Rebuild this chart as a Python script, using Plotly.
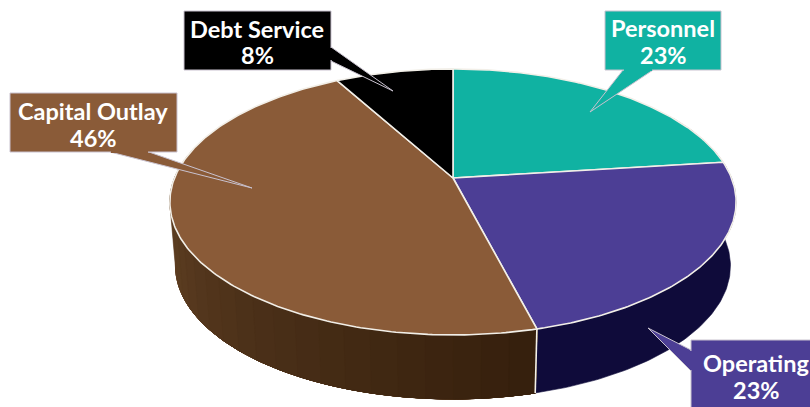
import numpy as np
import plotly.graph_objects as go

# Budget shares, drawn clockwise from twelve o'clock
categories = ["Personnel", "Operating", "Capital Outlay", "Debt Service"]
shares = [23, 23, 46, 8]
top_colors = ["#10b2a2", "#4c3e95", "#8a5b38", "#000000"]

# Tilted-disc projection: apex of the slices, radii and foreshortening
APEX_X, APEX_Y = 453.0, 178.0
RX, RY, PERSPECTIVE = 278.5, 128.7, 0.18
DEPTH, BOTTOM_SCALE = 64.0, 0.98


def project(theta, lower=False):
    """Map clock angles (radians) on the disc rim to screen coordinates."""
    denom = 1 + PERSPECTIVE * np.cos(theta)
    x = RX * np.sin(theta) / denom
    y = -RY * np.cos(theta) / denom
    if lower:
        return APEX_X + x * BOTTOM_SCALE, APEX_Y + y + DEPTH
    return APEX_X + x, APEX_Y + y


def arc(a, b, n=90):
    return np.linspace(a, b, max(2, int(n)))


def wall_trace(a, b, color):
    t = arc(a, b, 120)
    ux, uy = project(t)
    lx, ly = project(t[::-1], lower=True)
    return go.Scatter(
        x=np.r_[ux, lx, ux[0]], y=np.r_[uy, ly, uy[0]], mode="lines", fill="toself",
        fillcolor=color, line=dict(color=color, width=0.6), hoverinfo="skip", showlegend=False,
    )


def mix(c0, c1, f):
    return "rgb(%d,%d,%d)" % tuple(round(p + (q - p) * f) for p, q in zip(c0, c1))


edges = np.r_[0, np.cumsum(shares)] / sum(shares) * 2 * np.pi
fig = go.Figure()

# Side wall: navy under Operating, shaded brown under Capital Outlay.
# Painted lightest first, each darker band overlapping toward the seam.
fig.add_trace(wall_trace(np.radians(60), edges[2], "#0f0b3a"))
wall_dark, wall_light = (54, 32, 13), (112, 76, 44)
steps = np.linspace(np.radians(285), edges[2], 26)
for i in range(len(steps) - 1):
    fig.add_trace(wall_trace(edges[2], steps[i], mix(wall_light, wall_dark, (i / (len(steps) - 2)) ** 0.8)))

# White seam running down the wall between the two visible slices
sx0, sy0 = project(edges[2])
sx1, sy1 = project(edges[2], lower=True)
fig.add_trace(go.Scatter(x=[sx0, sx1], y=[sy0, sy1], mode="lines",
                         line=dict(color="#f4f1ea", width=1.6), hoverinfo="skip", showlegend=False))

# Top faces of the slices
for i, name in enumerate(categories):
    t = arc(edges[i], edges[i + 1], 30 + shares[i] * 4)
    x, y = project(t)
    fig.add_trace(go.Scatter(
        x=np.r_[APEX_X, x, APEX_X], y=np.r_[APEX_Y, y, APEX_Y], mode="lines", fill="toself",
        fillcolor=top_colors[i], line=dict(color="#f2efe8", width=1.6), name=name,
        hoverinfo="name", showlegend=False,
    ))

# Callout boxes with their pointers: (box x0, x1, y0, y1, pointer base a, base b, tip)
callouts = {
    "Personnel": (605, 721, 11, 70, (623, 70), (653, 70), (590, 112)),
    "Operating": (691, 830, 340, 430, (691, 350), (691, 371), (648, 328)),
    "Capital Outlay": (10, 177, 93, 152, (110, 152), (149, 152), (252, 188)),
    "Debt Service": (184, 331, 11, 70, (331, 47), (331, 61), (393, 91)),
}
# Label placement: (centre x, name line y, percent line y)
label_lines = {
    "Personnel": (663, 28, 55),
    "Operating": (756, 363, 390),
    "Capital Outlay": (93, 111, 138),
    "Debt Service": (257, 29, 55),
}
outline = "#c9c2cf"
label_font = dict(family="Lato, Arial, sans-serif", size=23.5, color="#ffffff")
shapes, annotations = [], []
for i, name in enumerate(categories):
    x0, x1, y0, y1, a, b, tip = callouts[name]
    fill = top_colors[i]
    shapes.append(dict(type="path", path=f"M{a[0]},{a[1]} L{tip[0]},{tip[1]} L{b[0]},{b[1]} Z",
                       fillcolor=fill, line=dict(color=outline, width=1)))
    shapes.append(dict(type="rect", x0=x0, x1=x1, y0=y0, y1=y1, fillcolor=fill,
                       line=dict(color=outline, width=1)))
    # Cover the pointer's base so box and pointer read as one outline
    if a[1] == b[1]:
        shapes.append(dict(type="line", x0=a[0] + 1, x1=b[0] - 1, y0=a[1], y1=b[1],
                           line=dict(color=fill, width=2)))
    else:
        shapes.append(dict(type="line", x0=a[0], x1=b[0], y0=a[1] + 1, y1=b[1] - 1,
                           line=dict(color=fill, width=2)))
    cx, y_name, y_pct = label_lines[name]
    for text, y in ((name, y_name), (f"{shares[i]}%", y_pct)):
        annotations.append(dict(
            x=cx, y=y, xref="x", yref="y", text=f"<b>{text}</b>", showarrow=False,
            xanchor="center", yanchor="middle", align="center", font=label_font,
        ))

fig.update_layout(
    width=810, height=407, margin=dict(l=0, r=0, t=0, b=0),
    paper_bgcolor="#ffffff", plot_bgcolor="#ffffff", showlegend=False,
    xaxis=dict(range=[0, 810], visible=False, fixedrange=True),
    yaxis=dict(range=[407, 0], visible=False, fixedrange=True),
    shapes=shapes, annotations=annotations,
)
fig.write_html("out.html", config={"displayModeBar": False})
